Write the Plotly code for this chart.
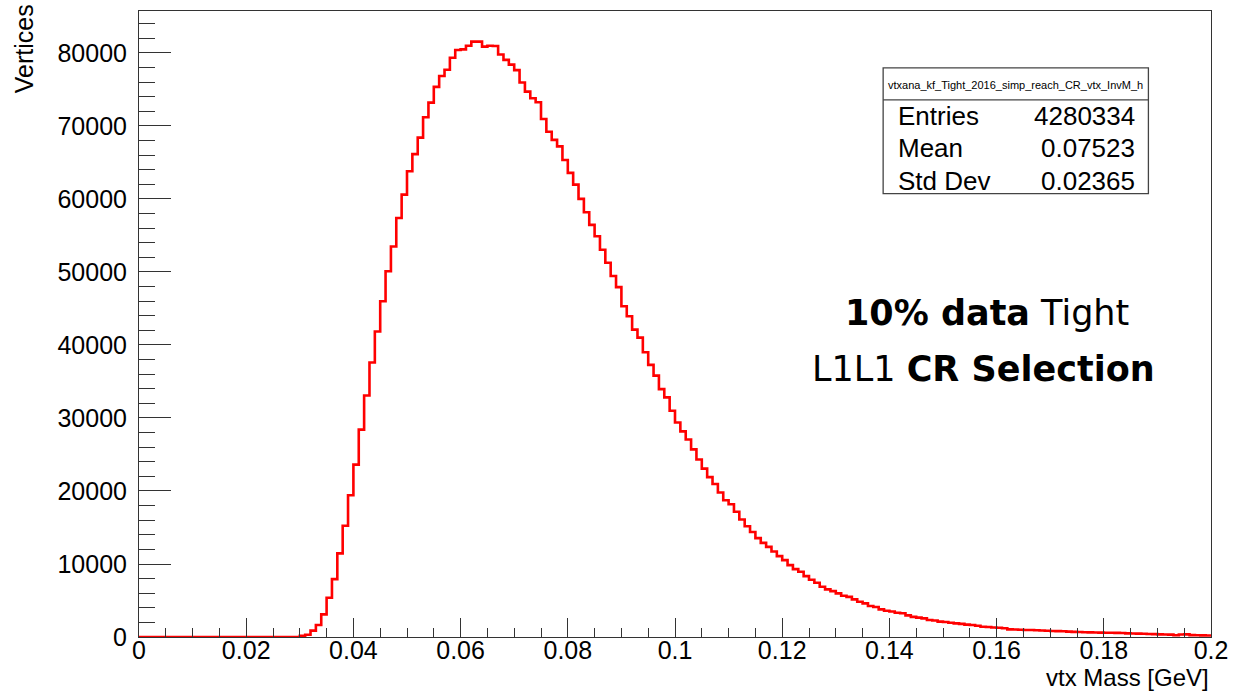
import numpy as np
import plotly.graph_objects as go

# Histogram binning: 200 bins from 0 to 0.2 GeV
x_min, x_max, n_bins = 0.0, 0.2, 200

# Bin contents (vertices per 0.001 GeV bin)
counts = [0] * 30 + [
    150, 300, 870, 1640, 3100, 5370, 7930, 11450, 15240, 19420,          # 30-39
    23610, 28400, 33090, 37600, 41850, 46000, 50100, 53500, 57400, 60600,  # 40-49
    63800, 66150, 68400, 71200, 73200, 75350, 76850, 77700, 79350, 80400,  # 50-59
    80500, 81000, 81550, 81550, 80870, 81000, 80950, 79800, 79050, 78400,  # 60-69
    77650, 75950, 74700, 73800, 73250, 70960, 69200, 68100, 67200, 65350,  # 70-79
    63570, 61970, 60010, 58190, 56460, 54900, 53040, 51260, 49440, 47930,  # 80-89
    45300, 43930, 42100, 41010, 39000, 37270, 35800, 33950, 32820, 31000,  # 90-99
    29380, 28170, 27060, 25700, 24320, 23070, 21900, 20950, 19800, 18740,  # 100-109
    18190, 17160, 16100, 15180, 14380, 13540, 12900, 12350, 11720, 11080,  # 110-119
    10530, 9850, 9300, 8930, 8340, 7840, 7430, 6880, 6520, 6290,           # 120-129
    5970, 5650, 5500, 5150, 4830, 4600, 4250, 4100, 3780, 3600,            # 130-139
    3500, 3330, 3250, 2960, 2750, 2650, 2550, 2320, 2250, 2100,            # 140-149
    2050, 1950, 1870, 1800, 1700, 1640, 1550, 1410, 1380, 1300,            # 150-159
    1260, 1200, 1050, 1030, 1000, 960, 950, 920, 890, 850,                 # 160-169
    820, 800, 780, 740, 700, 680, 660, 640, 620, 600,                      # 170-179
    590, 580, 560, 540, 500, 470, 460, 440, 420, 400,                      # 180-189
    360, 350, 320, 230, 340, 360, 250, 230, 220, 210,                      # 190-199
]

stat_labels = ["Entries", "Mean", "Std Dev"]
stat_values = ["4280334", "0.07523", "0.02365"]
hist_name = "vtxana_kf_Tight_2016_simp_reach_CR_vtx_InvM_h"

x_title = "vtx Mass [GeV]"
y_title = "Vertices"
y_max = 85750

edges = np.linspace(x_min, x_max, n_bins + 1)
step_x = list(edges)
step_y = list(counts) + [counts[-1]]

fig = go.Figure()
fig.add_trace(go.Scatter(
    x=step_x, y=step_y, mode="lines",
    line=dict(color="#ff0000", width=2.6, shape="hv"),
    hoverinfo="skip", showlegend=False,
))

W, H = 1238, 693
L, R, T, B = 139, 20, 10, 56
pw, ph = W - L - R, H - T - B


def px(xp):
    return (xp - L) / pw


def py(yp):
    return (H - B - yp) / ph


helv = "Liberation Sans, Arial, sans-serif"
axis_font = dict(family=helv, size=25, color="black")

fig.update_layout(
    width=W, height=H,
    margin=dict(l=L, r=R, t=T, b=B, pad=0),
    paper_bgcolor="white", plot_bgcolor="white",
    xaxis=dict(
        range=[x_min, x_max], dtick=0.02, tick0=0,
        ticks="inside", ticklen=19, tickwidth=1, tickcolor="#333",
        minor=dict(ticks="inside", ticklen=9, dtick=0.005, tickcolor="#333", tickwidth=1),
        showgrid=False, zeroline=False,
        showline=True, linecolor="#333", linewidth=1, mirror=True,
        tickfont=axis_font, tickformat="~g", ticklabelstandoff=-9,
    ),
    yaxis=dict(
        range=[0, y_max], dtick=10000, tick0=0,
        ticks="inside", ticklen=32, tickwidth=1, tickcolor="#333",
        minor=dict(ticks="inside", ticklen=16, dtick=2000, tickcolor="#333", tickwidth=1),
        showgrid=False, zeroline=False,
        showline=True, linecolor="#333", linewidth=1, mirror=True,
        tickfont=axis_font, tickformat="d", ticklabelstandoff=6,
    ),
)

annotations = [
    dict(text=x_title, xref="paper", yref="paper", x=1.0, y=py(693),
         xanchor="right", yanchor="bottom", showarrow=False, font=dict(family=helv, size=24, color="black")),
    dict(text=y_title, xref="paper", yref="paper", x=px(23), y=py(1),
         xanchor="center", yanchor="top", textangle=-90, showarrow=False, font=axis_font),
]

# Statistics box
bx0, bx1, by0, by1, bsep = 888, 1155, 67, 193, 99
shapes = [
    dict(type="rect", xref="paper", yref="paper", x0=px(bx0), x1=px(bx1),
         y0=py(by1), y1=py(by0), line=dict(color="#444", width=1.3), fillcolor="white"),
    dict(type="line", xref="paper", yref="paper", x0=px(bx0), x1=px(bx1),
         y0=py(bsep), y1=py(bsep), line=dict(color="#444", width=1.3)),
]
annotations.append(dict(
    text=hist_name, xref="paper", yref="paper", x=px((bx0 + bx1) / 2), y=py(84),
    xanchor="center", yanchor="middle", showarrow=False,
    font=dict(family=helv, size=11, color="black")))
row_font = dict(family=helv, size=26, color="black")
for i, (lab, val) in enumerate(zip(stat_labels, stat_values)):
    yc = 115 + i * 32.5
    annotations.append(dict(text=lab, xref="paper", yref="paper", x=px(901), y=py(yc),
                            xanchor="left", yanchor="middle", showarrow=False, font=row_font))
    annotations.append(dict(text=val, xref="paper", yref="paper", x=px(1144), y=py(yc),
                            xanchor="right", yanchor="middle", showarrow=False, font=row_font))

# Selection label
label_font = dict(family="DejaVu Sans, sans-serif", size=35, color="black")
annotations.append(dict(text="<b>10% data</b> Tight", xref="paper", yref="paper",
                        x=px(993), y=py(312), xanchor="center", yanchor="middle",
                        showarrow=False, font=label_font))
annotations.append(dict(text="L1L1 <b>CR Selection</b>", xref="paper", yref="paper",
                        x=px(989), y=py(369), xanchor="center", yanchor="middle",
                        showarrow=False, font=label_font))

fig.update_layout(shapes=shapes, annotations=annotations)
fig.write_html("out.html")
